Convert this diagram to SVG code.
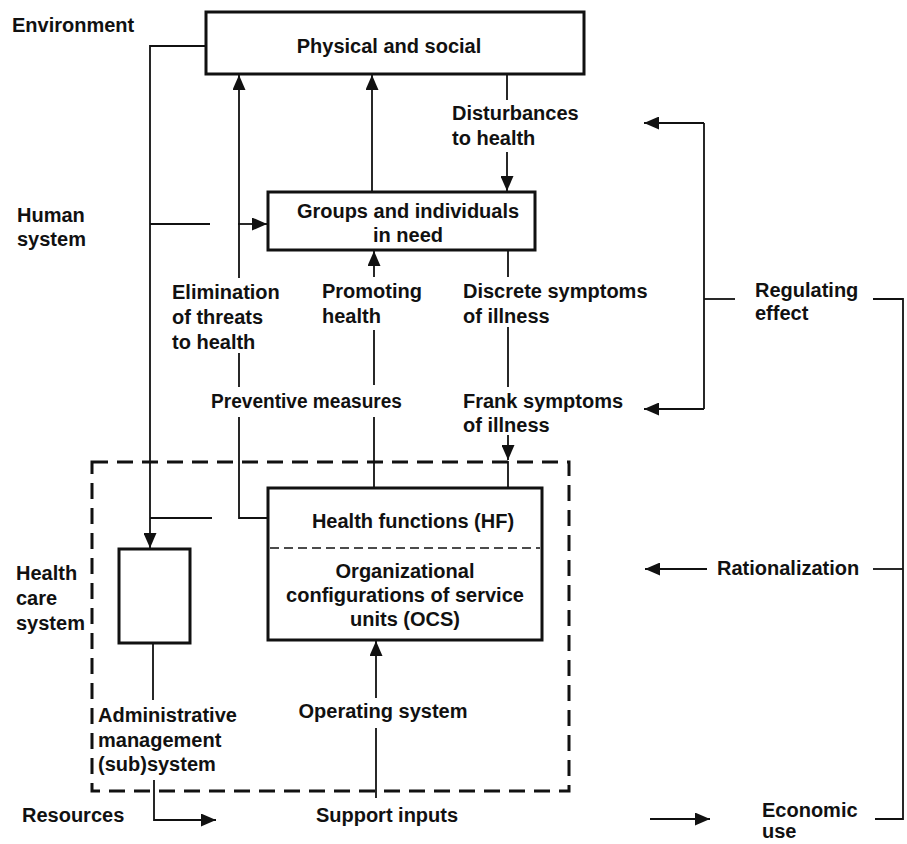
<svg xmlns="http://www.w3.org/2000/svg" width="907" height="844" viewBox="0 0 907 844">
<style>
text{font-family:"Liberation Sans",Arial,sans-serif;font-weight:bold;font-size:20px;fill:#111}
.c{text-anchor:middle}
.box{fill:#fff;stroke:#111;stroke-width:3}
.ln{fill:none;stroke:#111;stroke-width:1.8}
.dash{fill:none;stroke:#111;stroke-width:3;stroke-dasharray:16 9}
.idash{fill:none;stroke:#111;stroke-width:1.5;stroke-dasharray:9 5}
</style>
<defs>
<marker id="arr" viewBox="0 0 15 13" refX="15" refY="6.5" markerWidth="15" markerHeight="13" markerUnits="userSpaceOnUse" orient="auto"><path d="M0,0 L15,6.5 L0,13 z" fill="#111"/></marker>
</defs>
<rect width="907" height="844" fill="#fff"/>

<g id="labels">
<text x="12" y="32">Environment</text>
<text x="17" y="222">Human</text>
<text x="17" y="246">system</text>
<text x="16" y="580">Health</text>
<text x="16" y="605">care</text>
<text x="16" y="630">system</text>
<text x="22" y="822">Resources</text>
<text x="172" y="299">Elimination</text>
<text x="172" y="324">of threats</text>
<text x="172" y="349">to health</text>
<text x="211" y="408" textLength="191" lengthAdjust="spacingAndGlyphs">Preventive measures</text>
<text x="322" y="298">Promoting</text>
<text x="322" y="323">health</text>
<text x="463" y="298">Discrete symptoms</text>
<text x="463" y="323">of illness</text>
<text x="463" y="408">Frank symptoms</text>
<text x="463" y="432">of illness</text>
<text x="452" y="120">Disturbances</text>
<text x="452" y="145">to health</text>
<text x="98" y="722">Administrative</text>
<text x="98" y="747">management</text>
<text x="98" y="771">(sub)system</text>
<text x="383" y="718" class="c">Operating system</text>
<text x="387" y="822" class="c">Support inputs</text>
<text x="755" y="297">Regulating</text>
<text x="755" y="320">effect</text>
<text x="717" y="575">Rationalization</text>
<text x="762" y="817">Economic</text>
<text x="762" y="838">use</text>
</g>

<g id="health-care-system">
<rect x="92" y="462" width="477" height="329" class="dash"/>
</g>

<g id="connectors">
<path class="ln" d="M206,46 H150 V548" marker-end="url(#arr)"/>
<path class="ln" d="M150,224 H210"/>
<path class="ln" d="M150,518 H212"/>
<path class="ln" d="M238,224 H267" marker-end="url(#arr)"/>
<path class="ln" d="M239,278 V75" marker-end="url(#arr)"/>
<path class="ln" d="M239,353 V387"/>
<path class="ln" d="M239,417 V518 H268"/>
<path class="ln" d="M372,192 V75" marker-end="url(#arr)"/>
<path class="ln" d="M374,277 V251" marker-end="url(#arr)"/>
<path class="ln" d="M374,330 V385"/>
<path class="ln" d="M374,417 V488"/>
<path class="ln" d="M507,75 V100"/>
<path class="ln" d="M507,152 V191" marker-end="url(#arr)"/>
<path class="ln" d="M508,251 V277"/>
<path class="ln" d="M508,327 V387"/>
<path class="ln" d="M508,435 V460" marker-end="url(#arr)"/>
<path class="ln" d="M508,461 V488"/>
<path class="ln" d="M153,643 V700"/>
<path class="ln" d="M154,780 V820 H216" marker-end="url(#arr)"/>
<path class="ln" d="M376,698 V641" marker-end="url(#arr)"/>
<path class="ln" d="M376,728 V798"/>
<path class="ln" d="M650,819 H710" marker-end="url(#arr)"/>
<path class="ln" d="M873,299 H903 V819 H875"/>
<path class="ln" d="M873,569 H903"/>
<path class="ln" d="M707,569 H645" marker-end="url(#arr)"/>
<path class="ln" d="M704,123 V409"/>
<path class="ln" d="M704,299 H735"/>
<path class="ln" d="M704,123 H644" marker-end="url(#arr)"/>
<path class="ln" d="M704,409 H644" marker-end="url(#arr)"/>
</g>

<g id="physical-social">
<rect x="206" y="12" width="378" height="62" class="box"/>
<text x="389" y="53" class="c">Physical and social</text>
</g>

<g id="groups-individuals">
<rect x="268" y="192" width="267" height="58" class="box"/>
<text x="408" y="218" class="c">Groups and individuals</text>
<text x="408" y="242" class="c">in need</text>
</g>

<g id="hf-ocs">
<rect x="268" y="488" width="274" height="152" class="box"/>
<line x1="270" y1="548" x2="540" y2="548" class="idash"/>
<text x="413" y="528" class="c">Health functions (HF)</text>
<text x="405" y="578" class="c">Organizational</text>
<text x="405" y="602" class="c">configurations of service</text>
<text x="405" y="626" class="c">units (OCS)</text>
</g>

<g id="admin-box">
<rect x="119" y="549" width="71" height="94" class="box"/>
</g>
</svg>
